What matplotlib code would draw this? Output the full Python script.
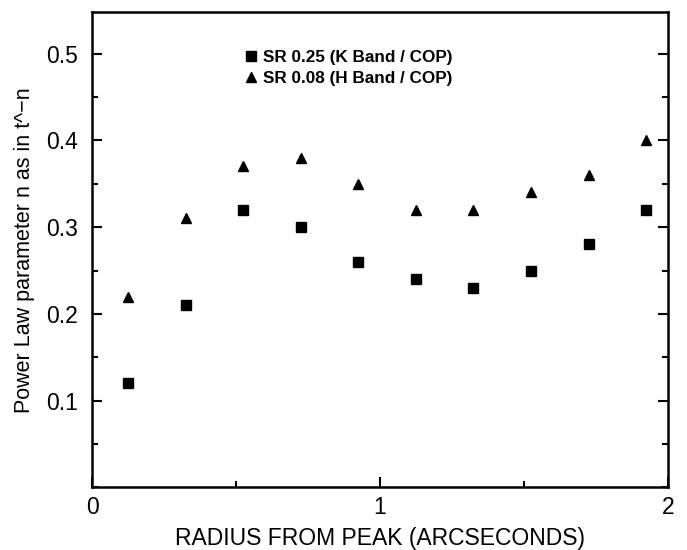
import numpy as np
import matplotlib.pyplot as plt
from matplotlib.ticker import MultipleLocator

plt.rcParams['font.family'] = ['Liberation Sans', 'DejaVu Sans']

radius = [0.125, 0.325, 0.525, 0.725, 0.925, 1.125, 1.325, 1.525, 1.725, 1.925]
n_k = [0.12, 0.21, 0.32, 0.30, 0.26, 0.24, 0.23, 0.25, 0.28, 0.32]
n_h = [0.22, 0.31, 0.37, 0.38, 0.35, 0.32, 0.32, 0.34, 0.36, 0.40]

fig = plt.figure(figsize=(6.87, 5.5), dpi=100)
ax = fig.add_axes([0.134, 0.114, 0.838, 0.864])

ax.plot(radius, n_k, 's', color='black', markersize=6.5, label='SR 0.25 (K Band / COP)')
ax.plot(radius, n_h, '^', color='black', markersize=7.5, label='SR 0.08 (H Band / COP)')

ax.set_xlim(0, 2)
ax.set_ylim(0, 0.548)
ax.set_xticks([0, 1, 2])
ax.xaxis.set_minor_locator(MultipleLocator(0.5))
ax.set_yticks([0.1, 0.2, 0.3, 0.4, 0.5])
ax.yaxis.set_minor_locator(MultipleLocator(0.05))
ax.tick_params(which='both', direction='in', right=True, top=False, width=1.5, labelsize=16.5)
ax.tick_params(which='major', length=7)
ax.tick_params(which='minor', length=4)
ax.tick_params(axis='x', pad=6)
ax.tick_params(axis='y', pad=10)
for s in ax.spines.values():
    s.set_linewidth(1.8)

ax.set_xlabel('RADIUS FROM PEAK (ARCSECONDS)', fontsize=16.5, labelpad=6)
ax.set_ylabel('Power Law parameter n as in t^\u2212n', fontsize=15.5, labelpad=8)

# legend sits inside the plot, no frame
leg = ax.legend(loc='upper left', bbox_to_anchor=(0.252, 0.935), frameon=False,
                prop={'weight': 'bold', 'size': 12.3}, handletextpad=0.3,
                handlelength=0.8, labelspacing=0.35, borderaxespad=0)

fig.savefig('out.png', dpi=100)
